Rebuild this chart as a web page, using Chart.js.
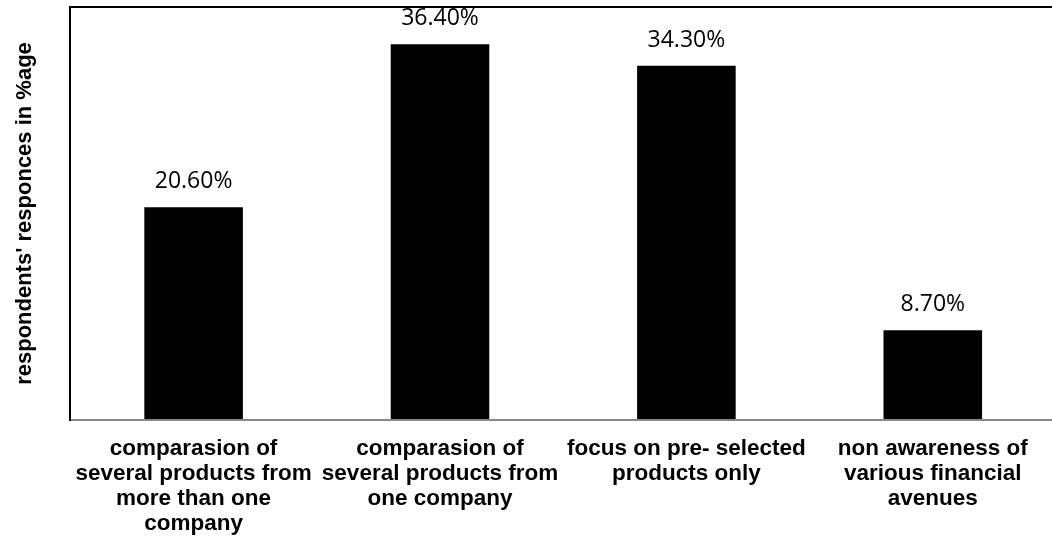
<!DOCTYPE html>
<html>
<head>
<meta charset="utf-8">
<script src="https://cdn.jsdelivr.net/npm/chart.js@4.4.1/dist/chart.umd.min.js"></script>
<style>
  html, body { margin: 0; padding: 0; background: #fff; overflow: hidden; }
  #wrap { width: 1056px; height: 544px; }
</style>
</head>
<body>
<div id="wrap"><canvas id="barChart" width="1056" height="544"></canvas></div>
<script>
// categories (already split into lines as in the picture)
const categories = [
    ['comparasion of', 'several products from', 'more than one', 'company'],
    ['comparasion of', 'several products from', 'one company'],
    ['focus on pre- selected', 'products only'],
    ['non awareness of', 'various financial', 'avenues']
];
const responses = [20.6, 36.4, 34.3, 8.7];
const yMin = 0;
const yMax = 40;
const yTitle = "respondents' responces in %age";

// value labels above bars
const valueLabels = {
    id: 'valueLabels',
    afterDatasetsDraw(chart) {
        const ctx = chart.ctx;
        const meta = chart.getDatasetMeta(0);
        ctx.save();
        ctx.fillStyle = '#000';
        ctx.font = '23px "Open Sans"';
        ctx.textAlign = 'center';
        ctx.textBaseline = 'alphabetic';
        meta.data.forEach((bar, i) => {
            ctx.fillText(responses[i].toFixed(2) + '%', bar.x, bar.y - 19);
        });
        ctx.restore();
    }
};

new Chart(document.getElementById('barChart'), {
    type: 'bar',
    data: {
        labels: categories,
        datasets: [{
            data: responses,
            backgroundColor: '#000',
            borderWidth: 0,
            barPercentage: 0.4,
            categoryPercentage: 1
        }]
    },
    options: {
        responsive: false,
        animation: false,
        layout: { padding: { top: 7, left: 12, right: 0, bottom: 0 } },
        plugins: {
            legend: { display: false },
            tooltip: { enabled: false }
        },
        scales: {
            x: {
                grid: { display: false },
                border: { color: '#898989', width: 2 },
                ticks: {
                    color: '#000',
                    font: { family: '"Liberation Sans", Arial', size: 22.5, weight: 'bold', lineHeight: 1.111 },
                    maxRotation: 0,
                    autoSkip: false,
                    padding: 8
                }
            },
            y: {
                min: yMin,
                max: yMax,
                grid: {
                    drawTicks: false,
                    color: (c) => c.tick && c.tick.value === yMax ? '#000' : 'rgba(0,0,0,0)',
                    lineWidth: 2
                },
                border: { color: '#000', width: 2 },
                ticks: { display: false, stepSize: 40 },
                title: {
                    display: true,
                    text: yTitle,
                    color: '#000',
                    font: { family: '"Liberation Sans", Arial', size: 22, weight: 'bold' },
                    padding: { top: 0, bottom: 32 }
                }
            }
        }
    },
    plugins: [valueLabels]
});
</script>
</body>
</html>
